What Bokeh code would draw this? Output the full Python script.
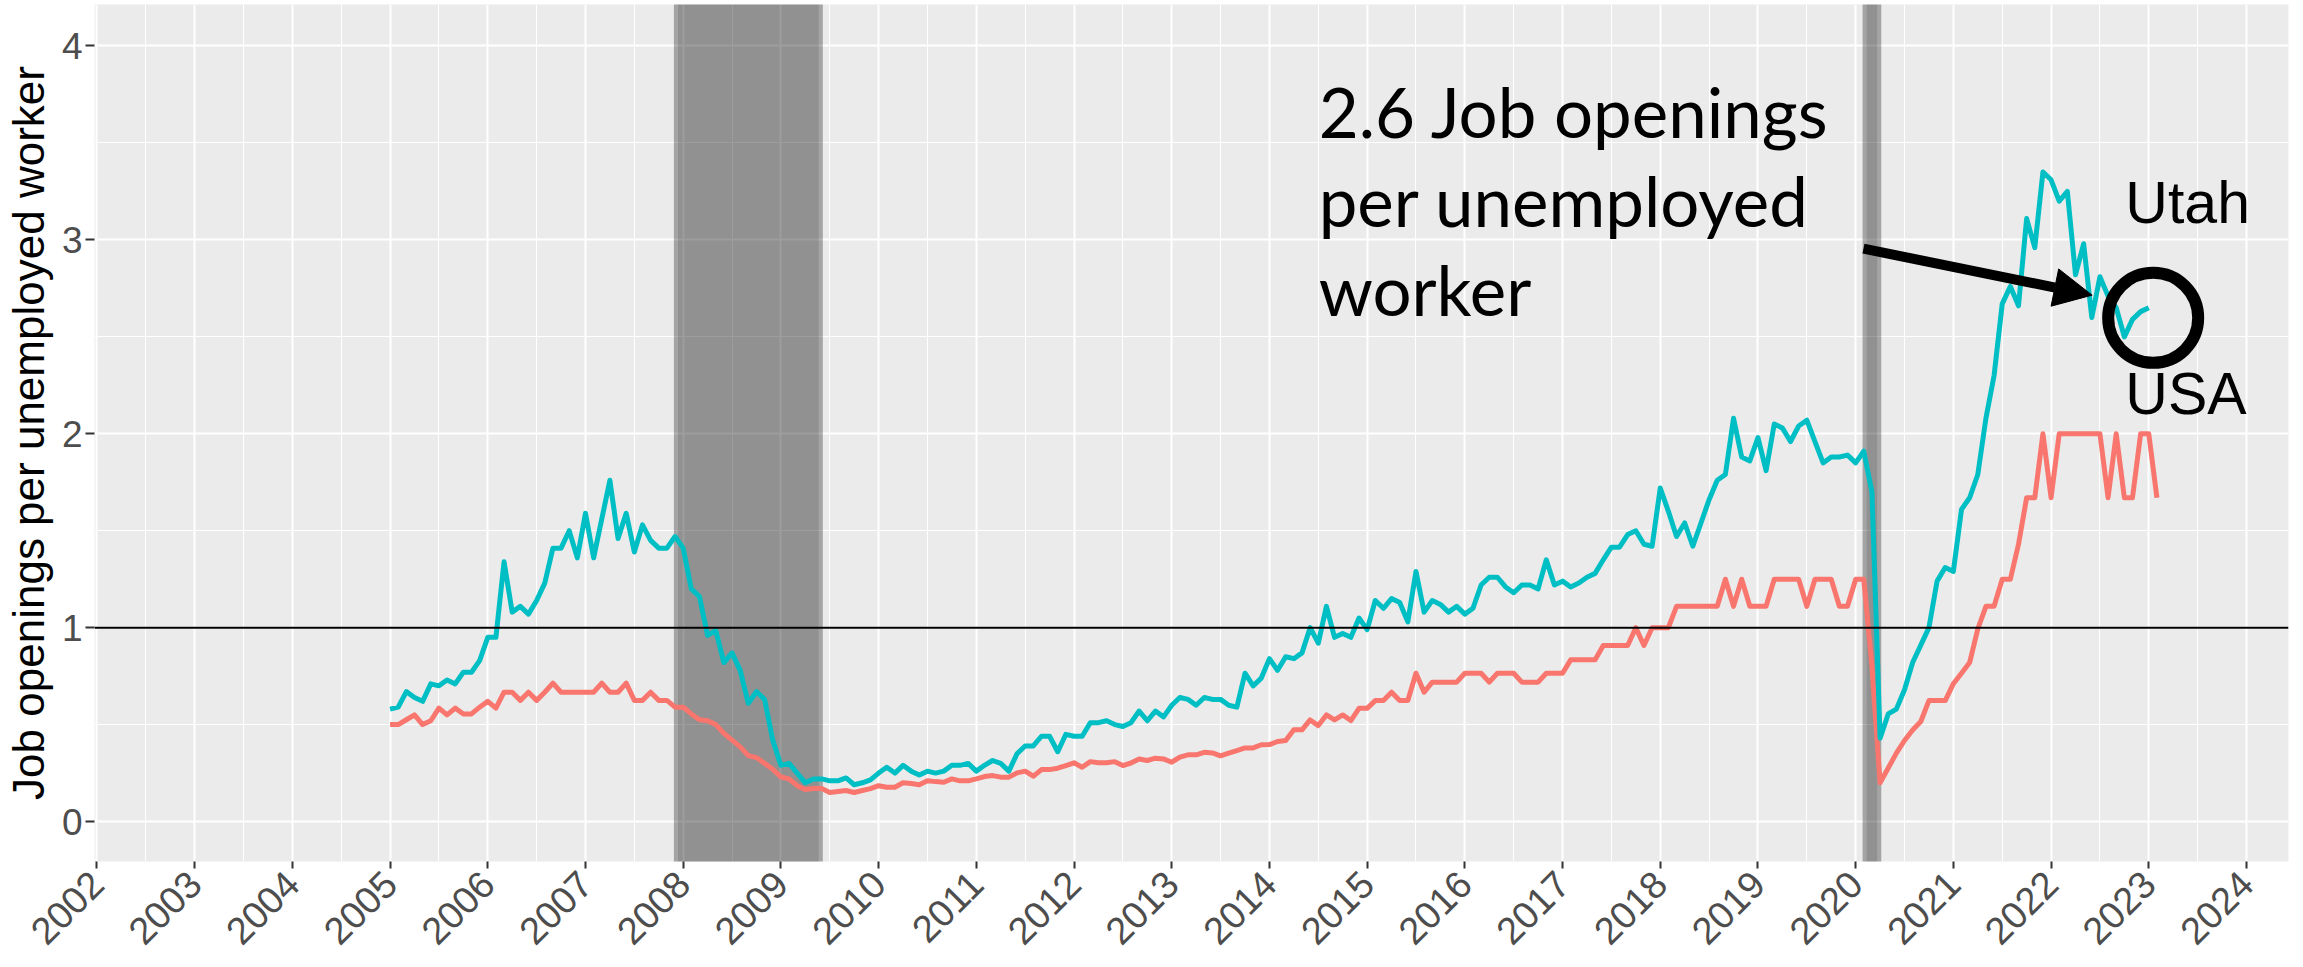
import math
import numpy as np
from bokeh.plotting import figure
from bokeh.models import FixedTicker, Span, Label, Arrow, NormalHead, Range1d
from bokeh.embed import file_html
from bokeh.resources import INLINE

# ---------------- data (monthly, starting January 2005) ----------------
start_year = 2005

utah = [
    0.58, 0.59, 0.67, 0.64, 0.62, 0.71, 0.70, 0.73, 0.71, 0.77, 0.77, 0.83,
    0.95, 0.95, 1.34, 1.08, 1.11, 1.07, 1.14, 1.23, 1.41, 1.41, 1.50, 1.36,
    1.59, 1.36, 1.56, 1.76, 1.46, 1.59, 1.39, 1.53, 1.45, 1.41, 1.41, 1.47,
    1.41, 1.20, 1.16, 0.96, 0.985, 0.82, 0.87, 0.78, 0.61, 0.67, 0.63, 0.42,
    0.29, 0.30, 0.25, 0.20, 0.22, 0.22, 0.21, 0.21, 0.225, 0.19, 0.20, 0.215,
    0.25, 0.28, 0.25, 0.29, 0.26, 0.24, 0.26, 0.25, 0.26, 0.29, 0.29, 0.30,
    0.26, 0.29, 0.315, 0.30, 0.26, 0.35, 0.39, 0.39, 0.44, 0.44, 0.36, 0.45,
    0.44, 0.44, 0.51, 0.51, 0.52, 0.50, 0.49, 0.51, 0.57, 0.52, 0.57, 0.54,
    0.60, 0.64, 0.63, 0.60, 0.64, 0.63, 0.63, 0.60, 0.59, 0.765, 0.70, 0.74,
    0.84, 0.78, 0.85, 0.84, 0.87, 1.00, 0.92, 1.11, 0.95, 0.97, 0.95, 1.05,
    0.99, 1.14, 1.10, 1.15, 1.13, 1.03, 1.29, 1.08, 1.14, 1.12, 1.08, 1.11,
    1.07, 1.10, 1.22, 1.26, 1.26, 1.21, 1.18, 1.22, 1.22, 1.20, 1.35, 1.22,
    1.24, 1.21, 1.23, 1.26, 1.28, 1.35, 1.415, 1.415, 1.48, 1.50, 1.43, 1.42,
    1.72, 1.60, 1.47, 1.54, 1.42, 1.54, 1.66, 1.76, 1.79, 2.08, 1.88, 1.86,
    1.98, 1.81, 2.05, 2.03, 1.96, 2.04, 2.07, 1.96, 1.85, 1.88, 1.88, 1.89,
    1.85, 1.91, 1.70, 0.43, 0.555, 0.58, 0.68, 0.82, 0.91, 1.00, 1.24, 1.31,
    1.29, 1.61, 1.67, 1.79, 2.08, 2.30, 2.67, 2.76, 2.66, 3.11, 2.96, 3.35,
    3.31, 3.20, 3.25, 2.82, 2.98, 2.60, 2.81, 2.71, 2.65, 2.50, 2.59, 2.63,
    2.65,
]

usa = [
    0.50, 0.50, 0.525, 0.55, 0.50, 0.52, 0.585, 0.55, 0.585, 0.555, 0.555, 0.59,
    0.62, 0.585, 0.667, 0.667, 0.625, 0.667, 0.625, 0.667, 0.714, 0.667, 0.667, 0.667,
    0.667, 0.667, 0.714, 0.667, 0.667, 0.714, 0.625, 0.625, 0.667, 0.625, 0.625, 0.59,
    0.59, 0.555, 0.525, 0.52, 0.50, 0.455, 0.42, 0.385, 0.34, 0.33, 0.30, 0.27,
    0.23, 0.22, 0.185, 0.165, 0.17, 0.17, 0.15, 0.155, 0.16, 0.15, 0.16, 0.17,
    0.185, 0.177, 0.177, 0.20, 0.196, 0.19, 0.21, 0.206, 0.203, 0.22, 0.21, 0.21,
    0.22, 0.232, 0.237, 0.229, 0.229, 0.251, 0.26, 0.234, 0.268, 0.268, 0.275, 0.289,
    0.303, 0.28, 0.309, 0.303, 0.303, 0.309, 0.289, 0.302, 0.323, 0.315, 0.327, 0.323,
    0.306, 0.332, 0.344, 0.344, 0.357, 0.354, 0.339, 0.353, 0.366, 0.38, 0.38, 0.396,
    0.397, 0.413, 0.418, 0.473, 0.473, 0.524, 0.495, 0.55, 0.524, 0.55, 0.521, 0.584,
    0.584, 0.624, 0.624, 0.667, 0.624, 0.624, 0.765, 0.667, 0.719, 0.719, 0.719, 0.719,
    0.765, 0.765, 0.765, 0.719, 0.765, 0.765, 0.765, 0.719, 0.719, 0.719, 0.765, 0.765,
    0.765, 0.834, 0.834, 0.834, 0.834, 0.908, 0.908, 0.908, 0.908, 1.0, 0.908, 1.0,
    1.0, 1.0, 1.11, 1.11, 1.11, 1.11, 1.11, 1.11, 1.25, 1.11, 1.25, 1.11,
    1.11, 1.11, 1.25, 1.25, 1.25, 1.25, 1.11, 1.25, 1.25, 1.25, 1.11, 1.11,
    1.25, 1.25, 0.80, 0.20, 0.276, 0.353, 0.418, 0.472, 0.516, 0.624, 0.624, 0.624,
    0.711, 0.765, 0.82, 0.993, 1.11, 1.11, 1.25, 1.25, 1.43, 1.67, 1.67, 2.0,
    1.67, 2.0, 2.0, 2.0, 2.0, 2.0, 2.0, 1.67, 2.0, 1.67, 1.67, 2.0,
    2.0, 1.67,
]

recession_start = [2007.917, 2020.083]
recession_end = [2009.417, 2020.25]

year_ticks = list(range(2002, 2025))
y_ticks = [0, 1, 2, 3, 4]
annotation_lines = ["2.6 Job openings", "per unemployed", "worker"]
y_title = "Job openings per unemployed worker"

# ---------------- figure ----------------
x_utah = start_year + np.arange(len(utah)) / 12.0
x_usa = start_year + np.arange(len(usa)) / 12.0

p = figure(width=2303, height=967, output_backend="svg", toolbar_location=None,
           title=None,
           x_range=Range1d(2001.975, 2024.43), y_range=Range1d(-0.206, 4.214),
           min_border_left=94, min_border_right=15, min_border_top=4,
           min_border_bottom=106)
p.background_fill_color = "#EBEBEB"
p.border_fill_color = "white"
p.outline_line_color = None

p.xaxis.ticker = FixedTicker(ticks=year_ticks,
                             minor_ticks=[y + 0.5 for y in year_ticks[:-1]] + [year_ticks[0] - 0.5, year_ticks[-1] + 0.5])
p.yaxis.ticker = FixedTicker(ticks=y_ticks, minor_ticks=[v + 0.5 for v in y_ticks[:-1]])

for g in (p.xgrid, p.ygrid):
    g.grid_line_color = "white"
    g.grid_line_width = 2
    g.minor_grid_line_color = "white"
    g.minor_grid_line_width = 1

for ax in (p.xaxis, p.yaxis):
    ax.axis_line_color = None
    ax.minor_tick_line_color = None
    ax.major_tick_in = 0
    ax.major_tick_line_color = "#333333"
    ax.major_tick_line_width = 2
    ax.major_label_text_font = "Liberation Sans"
    ax.major_label_text_color = "#4D4D4D"

p.xaxis.major_label_text_font_size = "38px"
p.yaxis.major_label_text_font_size = "37px"
p.xaxis.major_tick_out = 7
p.yaxis.major_tick_out = 9
p.xaxis.major_label_orientation = math.pi / 4
p.xaxis.major_label_standoff = 9
p.xaxis.major_label_overrides = {y: str(y) for y in year_ticks}
p.yaxis.major_label_standoff = 3

p.yaxis.axis_label = y_title
p.yaxis.axis_label_text_font = "Liberation Sans"
p.yaxis.axis_label_text_font_size = "44px"
p.yaxis.axis_label_text_font_style = "normal"
p.yaxis.axis_label_text_color = "black"
p.yaxis.axis_label_standoff = 6

# recession shading (light rim + darker core)
rim = 0.012
inset = 0.03
p.quad(left=[s - rim for s in recession_start], right=[e + rim for e in recession_end],
       bottom=-10, top=10, fill_color="black", fill_alpha=0.30, line_color=None)
p.quad(left=[s + inset for s in recession_start], right=[e - inset for e in recession_end],
       bottom=-10, top=10, fill_color="black", fill_alpha=0.114, line_color=None)

# series
p.line(x_usa, usa, line_color="#F8766D", line_width=5, line_join="round")
p.line(x_utah, utah, line_color="#00BFC4", line_width=5, line_join="round")

p.add_layout(Span(location=1, dimension="width", line_color="black", line_width=2))

# annotations
for txt, yb in zip(annotation_lines, [3.663, 3.204, 2.745]):
    p.add_layout(Label(x=2014.504, y=yb, text=txt, text_font="Lato",
                       text_font_size="69px", text_color="black",
                       text_baseline="alphabetic", text_align="left"))

p.add_layout(Label(x=2022.76, y=3.189, text="Utah", text_font="Liberation Sans",
                   text_font_size="59px", text_color="black", text_baseline="alphabetic"))
p.add_layout(Label(x=2022.76, y=2.204, text="USA", text_font="Liberation Sans",
                   text_font_size="59px", text_color="black", text_baseline="alphabetic"))

p.add_layout(Arrow(end=NormalHead(size=38, fill_color="black", line_color="black", line_width=1),
                   x_start=2020.08, y_start=2.955, x_end=2022.42, y_end=2.715,
                   line_color="black", line_width=10))

p.scatter(x=[2023.045], y=[2.598], marker="circle", size=90, fill_color=None,
          line_color="black", line_width=12)

open("out.html", "w").write(file_html(p, INLINE))
